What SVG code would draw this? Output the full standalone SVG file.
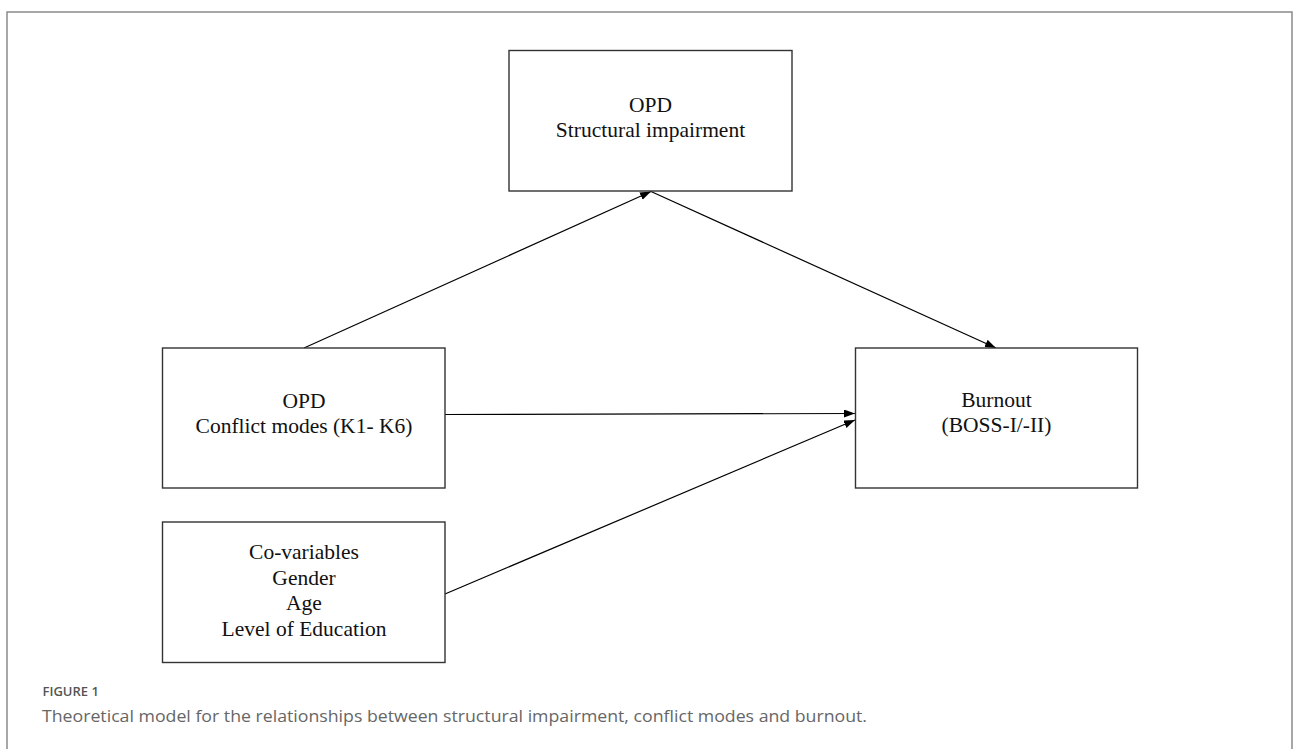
<svg xmlns="http://www.w3.org/2000/svg" width="1293" height="749" viewBox="0 0 1293 749">
<style>
.box{fill:#fff;stroke:#333;stroke-width:1.4}
.lbl{font-family:"Liberation Serif","Times New Roman",serif;font-size:21.5px;fill:#111;text-anchor:middle}
.edge{stroke:#000;stroke-width:1.2;fill:none;marker-end:url(#ah)}
.frame{stroke:#8a8a8a;stroke-width:1.5;fill:none}
</style>
<defs>
<marker id="ah" markerUnits="userSpaceOnUse" markerWidth="12" markerHeight="10" refX="11" refY="4" orient="auto">
<path d="M0,0 L11,4 L0,8 Z" fill="#000"/>
</marker>
</defs>
<rect width="1293" height="749" fill="#fff"/>
<path class="frame" d="M7,749 V12 H1292 V749"/>
<g id="connectors">
<line class="edge" x1="304" y1="348" x2="651" y2="191.5"/>
<line class="edge" x1="651" y1="191.5" x2="996" y2="348"/>
<line class="edge" x1="445" y1="414.5" x2="855" y2="413.5"/>
<line class="edge" x1="445" y1="594" x2="855" y2="420"/>
</g>
<g id="node-structural">
<rect class="box" x="509" y="50.5" width="283" height="140.5"/>
<text class="lbl" x="650.5" y="112">OPD</text>
<text class="lbl" x="650.5" y="137">Structural impairment</text>
</g>
<g id="node-conflict">
<rect class="box" x="162.5" y="348" width="282.5" height="140"/>
<text class="lbl" x="304" y="408">OPD</text>
<text class="lbl" x="304" y="433">Conflict modes (K1- K6)</text>
</g>
<g id="node-burnout">
<rect class="box" x="855.5" y="348" width="282" height="140"/>
<text class="lbl" x="996.5" y="407">Burnout</text>
<text class="lbl" x="996.5" y="432">(BOSS-I/-II)</text>
</g>
<g id="node-covariables">
<rect class="box" x="162.5" y="522" width="282.5" height="140.5"/>
<text class="lbl" x="304" y="559">Co-variables</text>
<text class="lbl" x="304" y="585">Gender</text>
<text class="lbl" x="304" y="610">Age</text>
<text class="lbl" x="304" y="636">Level of Education</text>
</g>
<g id="caption">
<text x="42.5" y="696" font-family="'Open Sans','Noto Sans',sans-serif" font-weight="600" font-size="13" fill="#555">FIGURE 1</text>
<text x="42" y="722" font-family="'Open Sans','Noto Sans',sans-serif" font-size="16" fill="#666" textLength="825" lengthAdjust="spacingAndGlyphs">Theoretical model for the relationships between structural impairment, conflict modes and burnout.</text>
</g>
</svg>
